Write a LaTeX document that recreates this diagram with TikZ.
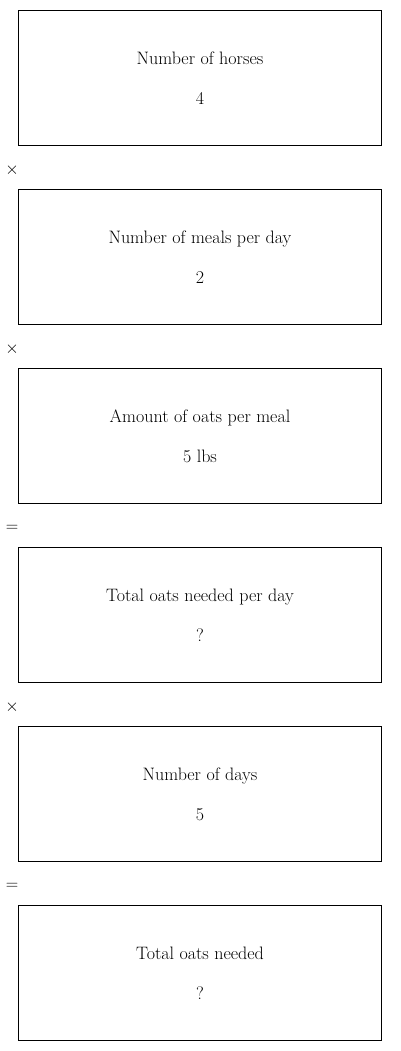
\documentclass[tikz,border=0pt]{standalone}
\begin{document}
\begin{tikzpicture}[x=1pt,y=-1pt,
  stepbox/.style={draw,line width=0.8pt,minimum width=363pt,minimum height=135pt,align=center,inner sep=0pt,font=\fontsize{18}{21}\selectfont},
  opnode/.style={inner sep=0pt,font=\fontsize{16}{19}\selectfont}]
\useasboundingbox (0,0) rectangle (400,1051);
\node[stepbox] (b1) at (200,78) {Number of horses\\[19pt]4};
\node[opnode] (o1) at (12,170) {$\times$};
\node[stepbox] (b2) at (200,257) {Number of meals per day\\[19pt]2};
\node[opnode] (o2) at (12,349) {$\times$};
\node[stepbox] (b3) at (200,436) {Amount of oats per meal\\[19pt]5 lbs};
\node[opnode] (o3) at (12,528) {$=$};
\node[stepbox] (b4) at (200,615) {Total oats needed per day\\[19pt]?};
\node[opnode] (o4) at (12,707) {$\times$};
\node[stepbox] (b5) at (200,794) {Number of days\\[19pt]5};
\node[opnode] (o5) at (12,886) {$=$};
\node[stepbox] (b6) at (200,973) {Total oats needed\\[19pt]?};
\end{tikzpicture}
\end{document}
